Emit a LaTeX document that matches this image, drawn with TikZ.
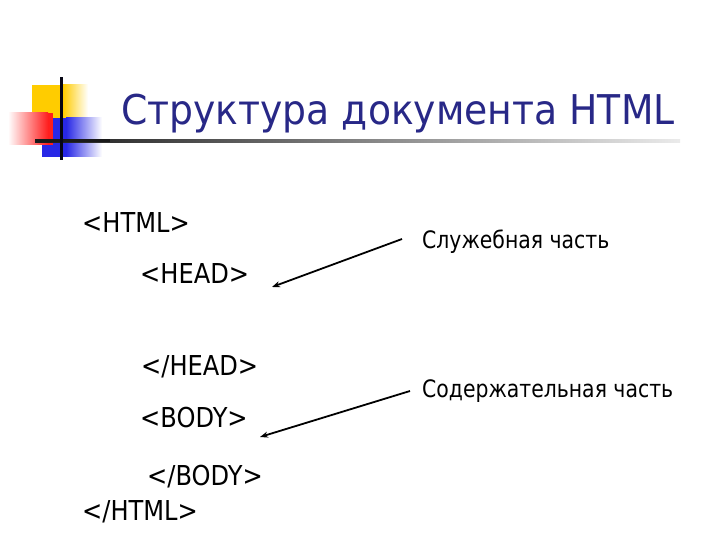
\documentclass[tikz,border=0pt]{standalone}
\usepackage{fontspec}
\setmainfont{DejaVu Sans}[FakeStretch=0.88]
\newfontfamily\titlefont{DejaVu Sans}[FakeStretch=0.92]
\newfontfamily\lblfont{DejaVu Sans}[FakeStretch=0.85]
\usetikzlibrary{arrows.meta}
\definecolor{titleblue}{RGB}{40,40,135}
\definecolor{decoyellow}{RGB}{255,204,0}
\definecolor{decored}{RGB}{255,30,30}
\definecolor{decoblue}{RGB}{40,40,230}
\begin{document}
\begin{tikzpicture}[x=1pt,y=-1pt,
  tag/.style={anchor=base west, inner sep=0pt, font=\fontsize{27.4}{32}\selectfont},
  lbl/.style={anchor=base west, inner sep=0pt, font=\lblfont\fontsize{24}{28}\selectfont},
  ttl/.style={anchor=base west, inner sep=0pt, text=titleblue, font=\titlefont\fontsize{41}{48}\selectfont},
  arr/.style={-{Stealth[length=8pt,width=6pt]}, line width=1.8pt}]
\useasboundingbox (0,0) rectangle (720,540);
\fill[white] (0,0) rectangle (720,540);
% decoration
\fill[decoyellow] (32,85) rectangle (63,122);
\shade[left color=decoyellow, right color=white] (63,85) rectangle (88,122);
\fill[decoblue] (42,118) rectangle (66,157);
\shade[left color=decoblue, right color=white] (66,118) rectangle (102,157);
\shade[left color=white, right color=decored] (8,113) rectangle (48,145);
\fill[decored] (48,113) rectangle (53,145);
\shade[left color=black!90, right color=black!8] (35,139.5) rectangle (680,142.5);
\fill[black!90] (35,139.5) rectangle (110,142.5);
\fill[black!85!titleblue] (59.5,77) rectangle (62.5,160);
% title
\node[ttl] (title) at (121,125) {Структура документа HTML};
% tags
\node[tag] (html) at (82,233) {<HTML>};
\node[tag] (head) at (140,283) {<HEAD>};
\node[tag] (ehead) at (141,375) {</HEAD>};
\node[tag] (body) at (140,427) {<BODY>};
\node[tag] (ebody) at (147,485) {</BODY>};
\node[tag] (ehtml) at (82,520) {</HTML>};
% labels
\node[lbl] (serv) at (422,248) {Служебная часть};
\node[lbl] (cont) at (422,397) {Содержательная часть};
% arrows
\coordinate (s1) at (402,239);
\coordinate (e1) at (272,287);
\coordinate (s2) at (410,391);
\coordinate (e2) at (260,437);
\draw[arr] (s1) -- (e1);
\draw[arr] (s2) -- (e2);
\end{tikzpicture}
\end{document}
